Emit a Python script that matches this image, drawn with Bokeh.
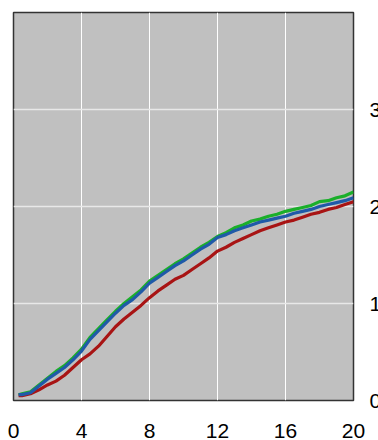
from bokeh.plotting import figure
from bokeh.models import FixedTicker, Range1d
from bokeh.embed import file_html
from bokeh.resources import INLINE

x = [0.3, 0.5, 1.0, 1.5, 2.0, 2.5, 3.0, 3.5, 4.0, 4.5, 5.0, 5.5, 6.0, 6.5, 7.0, 7.5,
     8.0, 8.5, 9.0, 9.5, 10.0, 10.5, 11.0, 11.5, 12.0, 12.5, 13.0, 13.5, 14.0, 14.5,
     15.0, 15.5, 16.0, 16.5, 17.0, 17.5, 18.0, 18.5, 19.0, 19.5, 20.0]

green = [0.06, 0.07, 0.09, 0.16, 0.23, 0.30, 0.36, 0.44, 0.53, 0.65, 0.74, 0.83, 0.92, 1.00,
         1.07, 1.14, 1.23, 1.29, 1.35, 1.41, 1.46, 1.52, 1.58, 1.63, 1.69, 1.73, 1.78, 1.81,
         1.85, 1.87, 1.90, 1.92, 1.95, 1.97, 1.99, 2.01, 2.05, 2.06, 2.09, 2.11, 2.15]

blue = [0.06, 0.06, 0.08, 0.15, 0.22, 0.28, 0.34, 0.42, 0.51, 0.63, 0.72, 0.81, 0.90, 0.98,
        1.04, 1.12, 1.21, 1.27, 1.33, 1.39, 1.44, 1.50, 1.56, 1.61, 1.68, 1.71, 1.75, 1.78,
        1.81, 1.84, 1.86, 1.88, 1.90, 1.93, 1.95, 1.97, 2.00, 2.02, 2.04, 2.06, 2.09]

red = [0.05, 0.05, 0.07, 0.11, 0.16, 0.20, 0.26, 0.34, 0.42, 0.48, 0.56, 0.66, 0.76, 0.84,
       0.91, 0.98, 1.06, 1.13, 1.19, 1.25, 1.29, 1.35, 1.41, 1.47, 1.54, 1.58, 1.63, 1.67,
       1.71, 1.75, 1.78, 1.81, 1.84, 1.86, 1.89, 1.92, 1.94, 1.97, 1.99, 2.02, 2.05]

x_ticks = [0, 4, 8, 12, 16, 20]
y_ticks = [0, 1, 2, 3]

p = figure(frame_width=340, frame_height=388, output_backend="svg", toolbar_location=None,
           x_range=Range1d(0, 20), y_range=Range1d(0, 4),
           x_axis_location="below", y_axis_location="right",
           min_border_left=13, min_border_top=12, min_border_right=0, min_border_bottom=0)

p.background_fill_color = "#c0c0c0"
p.border_fill_color = "white"
p.outline_line_color = "#333333"
p.outline_line_width = 1.5

p.xgrid.ticker = FixedTicker(ticks=x_ticks)
p.ygrid.ticker = FixedTicker(ticks=y_ticks)
p.xgrid.grid_line_color = "white"
p.xgrid.grid_line_width = 1
p.ygrid.grid_line_color = "#e8e8e8"
p.ygrid.grid_line_width = 1.5

for ax in (p.xaxis[0], p.yaxis[0]):
    ax.axis_line_color = None
    ax.major_tick_line_color = None
    ax.minor_tick_line_color = None
    ax.major_tick_out = 0
    ax.major_tick_in = 0
    ax.minor_tick_out = 0
    ax.major_label_text_font = "Liberation Sans"
    ax.major_label_text_font_size = "21px"
    ax.major_label_text_color = "black"

p.xaxis[0].ticker = FixedTicker(ticks=x_ticks)
p.yaxis[0].ticker = FixedTicker(ticks=y_ticks)
p.xaxis[0].major_label_standoff = 23
p.yaxis[0].major_label_standoff = 16

p.line(x, green, line_color="#1aaf2a", line_width=3.2)
p.line(x, red, line_color="#a81414", line_width=3.2)
p.line(x, blue, line_color="#1f5aa8", line_width=3.2)

open("out.html", "w").write(file_html(p, INLINE))
